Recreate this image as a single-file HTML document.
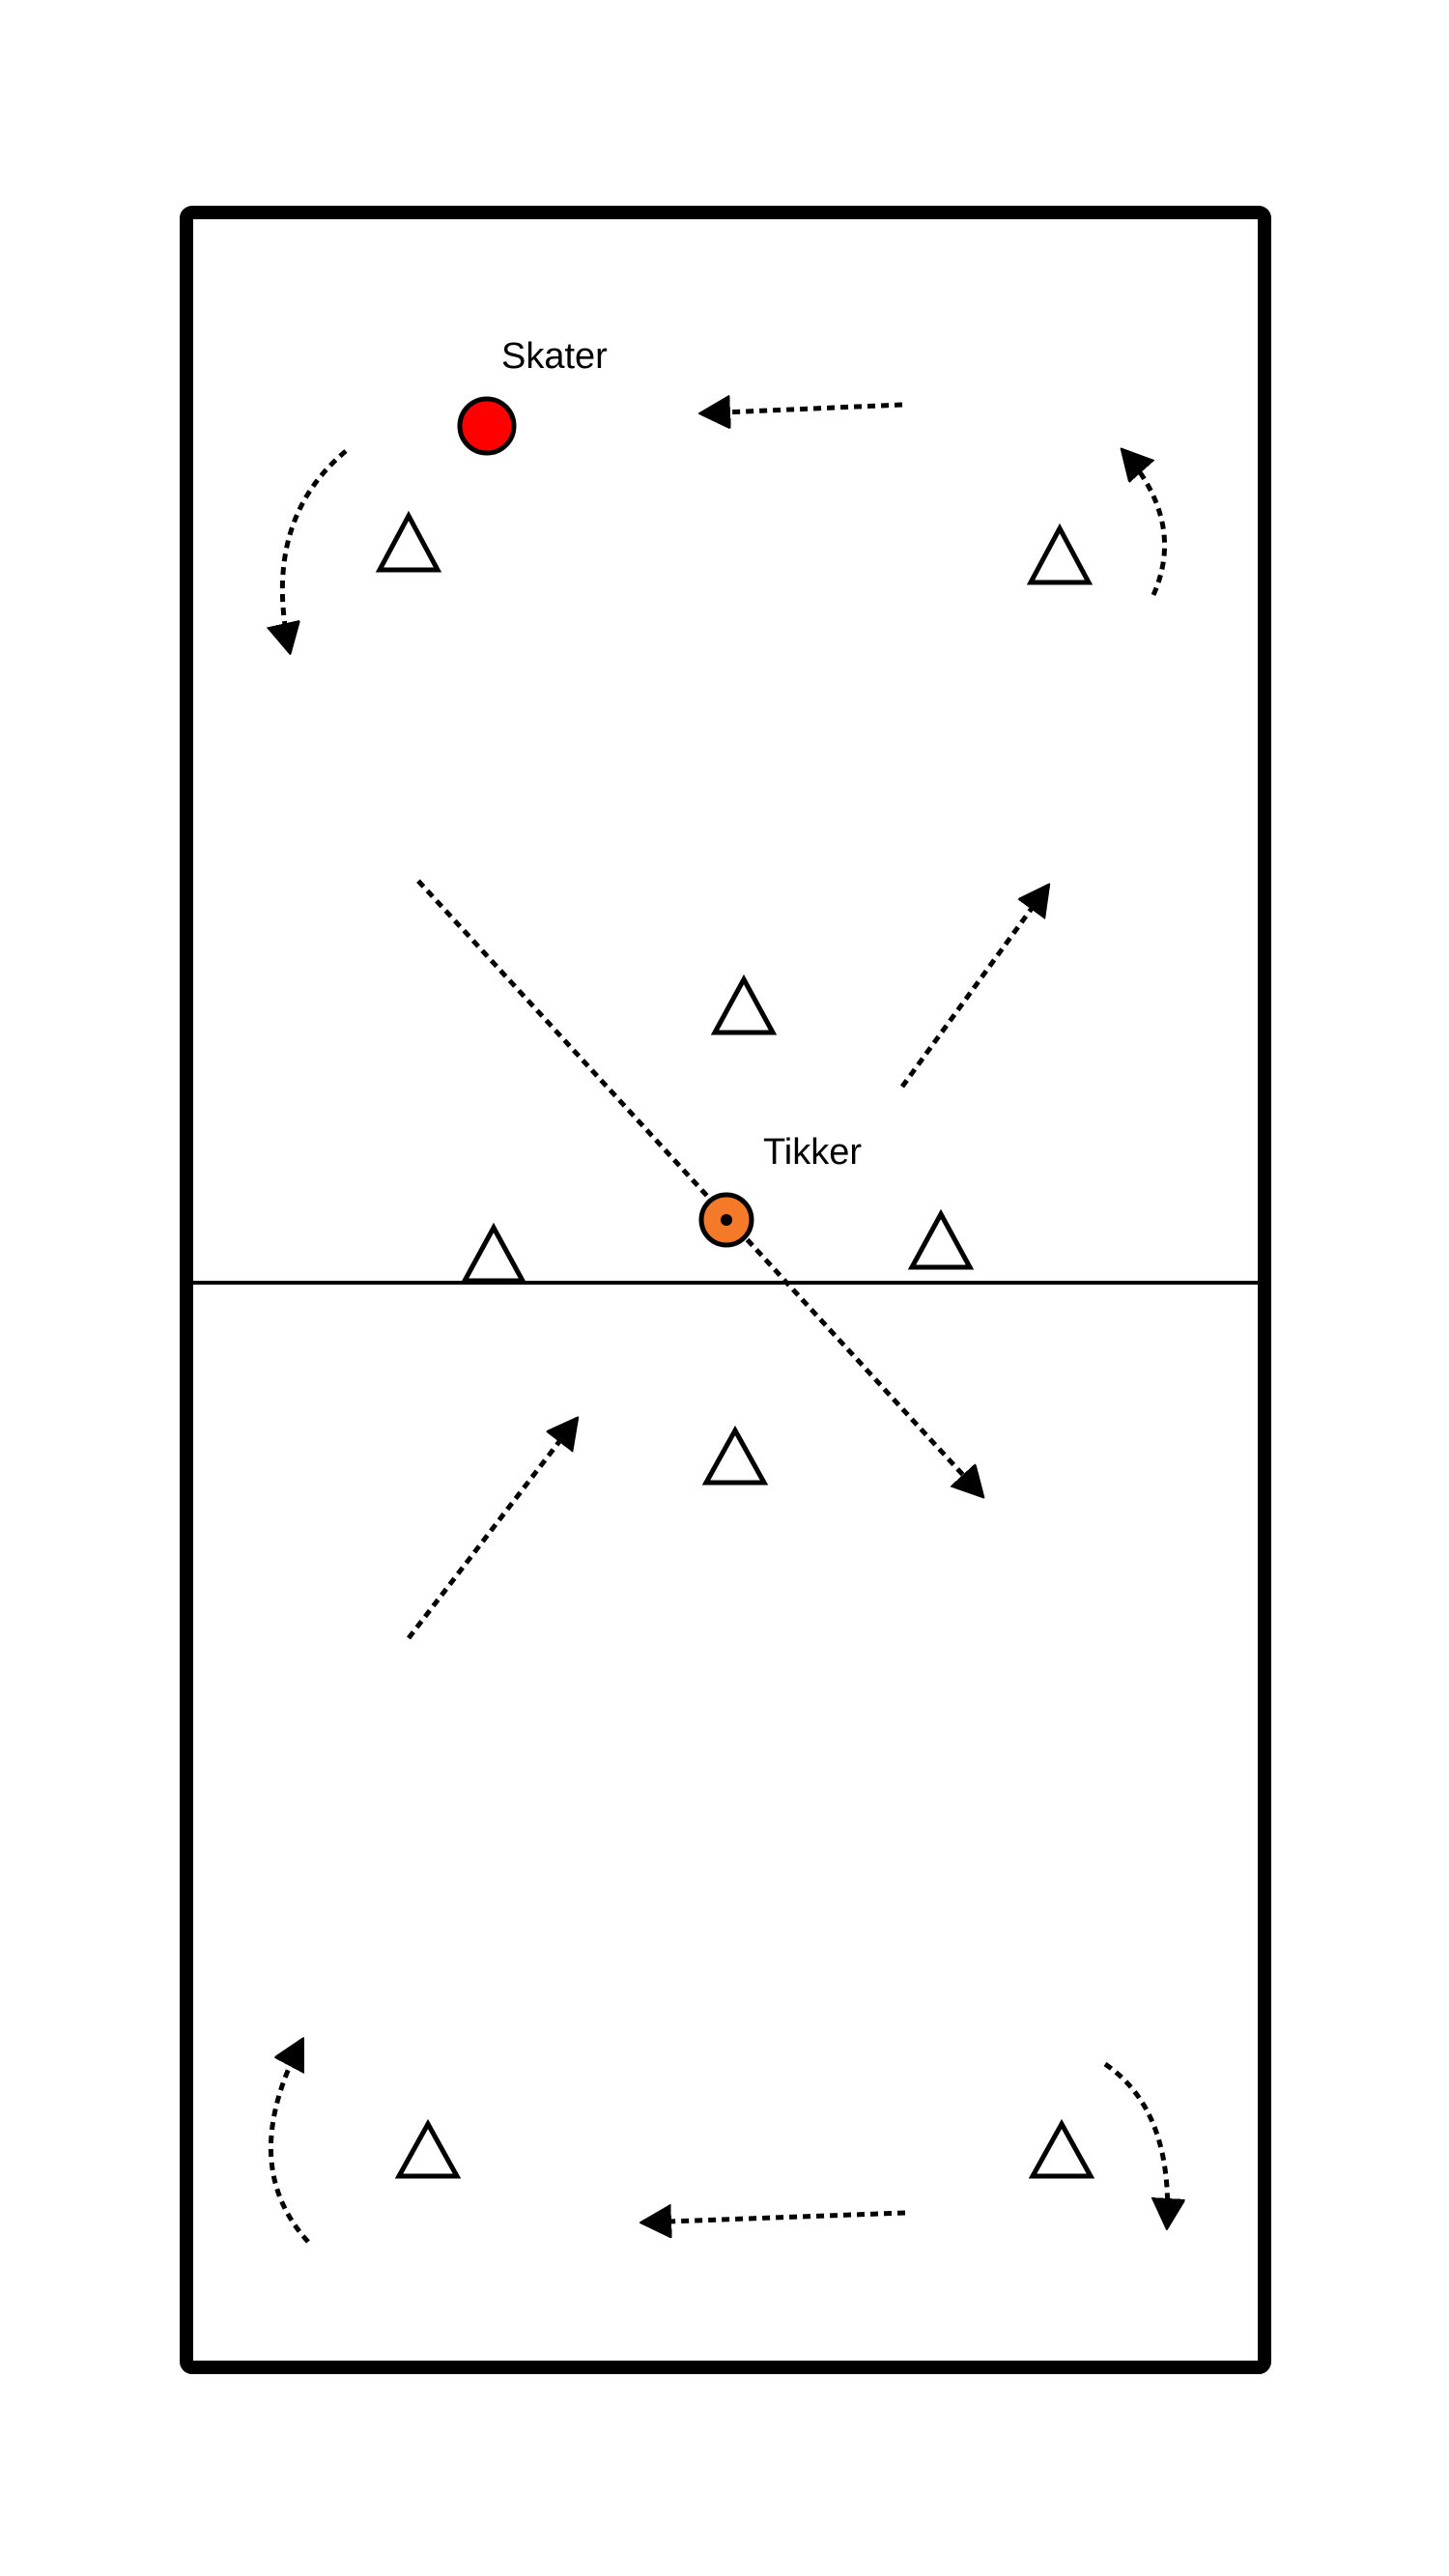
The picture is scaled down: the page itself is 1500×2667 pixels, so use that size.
<!DOCTYPE html>
<html><head><meta charset="utf-8"><style>
html,body{margin:0;padding:0;background:#fff}
svg{display:block}
</style></head><body>
<svg width="1500" height="2667" viewBox="0 0 1500 2667" xmlns="http://www.w3.org/2000/svg">
<defs>
<marker id="ah" markerUnits="userSpaceOnUse" markerWidth="40" markerHeight="40" refX="30" refY="17" orient="auto">
<path d="M0,0 L32,17 L0,34 Z" fill="#000" stroke="#000" stroke-width="2" stroke-linejoin="round"/>
</marker>
</defs>
<rect x="193" y="220" width="1116" height="2231" rx="6" fill="#fff" stroke="#000" stroke-width="14"/>
<line x1="199" y1="1328" x2="1303" y2="1328" stroke="#000" stroke-width="4"/>
<g fill="none" stroke="#000" stroke-width="5" stroke-dasharray="8,6">
<path d="M934,419 L726,428" marker-end="url(#ah)"/>
<path d="M358,467 Q270,540 300,675" marker-end="url(#ah)"/>
<path d="M1194,616 Q1228,540 1162,466" marker-end="url(#ah)"/>
<path d="M433,912 L1017,1549" marker-end="url(#ah)"/>
<path d="M934,1125 L1085,917" marker-end="url(#ah)"/>
<path d="M423,1696 L597,1469" marker-end="url(#ah)"/>
<path d="M937,2291 L665,2301" marker-end="url(#ah)"/>
<path d="M319,2321 Q245,2240 313,2112" marker-end="url(#ah)"/>
<path d="M1144,2137 Q1215,2185 1208,2306" marker-end="url(#ah)"/>
</g>
<g fill="#fff" stroke="#000" stroke-width="5">
<polygon points="423,534 453,590 393,590"/>
<polygon points="1097,547 1127,603 1067,603"/>
<polygon points="770,1014 800,1069 740,1069"/>
<polygon points="511,1271 541,1326 481,1326"/>
<polygon points="974,1257 1004,1312 944,1312"/>
<polygon points="761,1481 791,1535 731,1535"/>
<polygon points="443,2199 473,2253 413,2253"/>
<polygon points="1099,2199 1129,2253 1069,2253"/>
</g>
<circle cx="504" cy="441" r="28" fill="#ff0000" stroke="#000" stroke-width="5"/>
<circle cx="752" cy="1263" r="26" fill="#f47a2a" stroke="#000" stroke-width="5"/>
<circle cx="752" cy="1263" r="6" fill="#000"/>
<text x="519" y="381" font-family="Liberation Sans, sans-serif" font-size="38" fill="#000">Skater</text>
<text x="790" y="1205" font-family="Liberation Sans, sans-serif" font-size="38" fill="#000">Tikker</text>
</svg>
</body></html>
